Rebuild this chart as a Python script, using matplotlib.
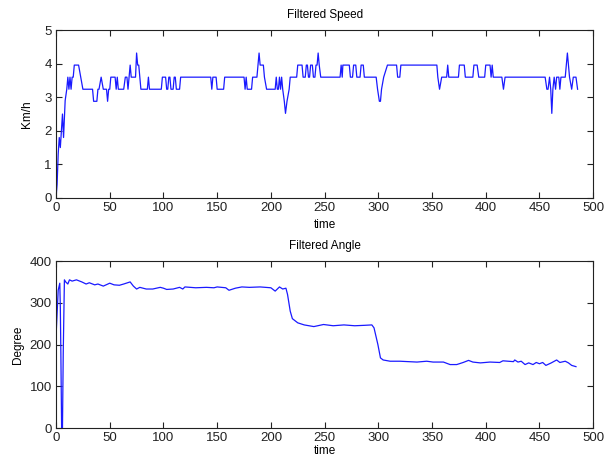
import numpy as np
import matplotlib
matplotlib.use('Agg')
import matplotlib.pyplot as plt

plt.rcParams['font.family'] = ['Liberation Sans', 'DejaVu Sans']

# filtered walking speed, km/h (breakpoints of the recorded trace)
speed_t = [0, 1, 2, 3, 4, 5, 6, 7, 8.5, 10, 11, 12, 13, 14, 15, 16, 17, 21, 23, 25,
           34, 35, 38, 39, 40, 42, 44, 47, 48, 49, 50, 51, 55, 56, 57, 58, 63, 64.5,
           66, 67, 68, 69, 70, 74, 75, 76, 77, 78, 79, 85, 86, 87, 98, 99, 102, 103,
           104, 105, 106, 107, 109, 110, 111, 112, 115, 116, 144, 145, 146, 149, 150,
           156, 157, 175, 176, 177, 178, 182, 183, 187, 188, 189, 190, 193, 194, 196,
           204, 205, 206, 207, 208, 209, 210, 211, 212.5, 213.6, 215, 217, 218, 224,
           225, 229, 230, 232, 233, 234, 235, 236, 237, 238.6, 239.6, 241, 242, 243,
           244, 245, 246.4, 264.4, 265.4, 266.4, 267, 273, 274, 276, 277, 279, 280,
           283, 284, 286, 287, 298, 299.3, 301, 302, 303, 305, 308.5, 317, 318, 320,
           321, 354.5, 355.4, 357, 359, 363.6, 364.6, 365.6, 374.6, 375.5, 380, 381,
           388, 389, 392, 393.5, 399, 400, 404, 405, 406, 407, 408, 415, 416.5, 418,
           455.3, 456.9, 458, 459.4, 460.5, 461.5, 462.5, 463.7, 465, 466, 468, 469,
           470, 471, 474, 475, 476, 477, 478, 480, 481.5, 484, 485.5]
speed_v = [0, 0.4, 1.3, 1.8, 1.5, 2.0, 2.5, 1.8, 2.9, 3.24, 3.6, 3.24, 3.6, 3.24, 3.6,
           3.6, 3.96, 3.96, 3.6, 3.24, 3.24, 2.88, 2.88, 3.24, 3.24, 3.6, 3.24, 3.24,
           2.88, 3.24, 3.24, 3.6, 3.6, 3.24, 3.6, 3.24, 3.24, 3.6, 3.6, 3.24, 3.6,
           3.96, 3.6, 3.6, 4.32, 3.96, 3.96, 3.6, 3.24, 3.24, 3.6, 3.24, 3.24, 3.6,
           3.6, 3.24, 3.24, 3.6, 3.6, 3.24, 3.24, 3.6, 3.6, 3.24, 3.24, 3.6, 3.6,
           3.24, 3.6, 3.6, 3.24, 3.24, 3.6, 3.6, 3.24, 3.6, 3.24, 3.24, 3.6, 3.6,
           3.96, 4.32, 3.96, 3.96, 3.6, 3.24, 3.24, 3.6, 3.24, 3.24, 3.6, 3.24, 3.6,
           3.24, 2.88, 2.52, 2.88, 3.24, 3.6, 3.6, 3.96, 3.96, 3.6, 3.6, 3.96, 3.96,
           3.6, 3.6, 3.96, 3.96, 3.6, 3.6, 3.96, 3.96, 4.32, 3.96, 3.6, 3.6, 3.96,
           3.6, 3.96, 3.96, 3.6, 3.6, 3.96, 3.96, 3.6, 3.6, 3.96, 3.96, 3.6, 3.6,
           3.24, 2.88, 2.88, 3.24, 3.6, 3.96, 3.96, 3.6, 3.6, 3.96, 3.96, 3.6, 3.24,
           3.6, 3.6, 3.96, 3.6, 3.6, 3.96, 3.96, 3.6, 3.6, 3.96, 3.96, 3.6, 3.6,
           3.96, 3.96, 3.6, 3.96, 3.6, 3.6, 3.6, 3.24, 3.6, 3.6, 3.24, 3.24, 3.6,
           3.24, 2.52, 3.24, 3.6, 3.24, 3.6, 3.6, 3.24, 3.6, 3.6, 3.6, 3.96, 4.32,
           3.96, 3.6, 3.24, 3.6, 3.6, 3.24]

# filtered heading angle, degrees
angle_t = [0, 1, 2, 3.5, 4, 4.5, 5.2, 6, 6.7, 7.8, 9, 11, 12.5, 15, 19, 24, 28, 31,
           36, 39, 44, 50, 54, 59, 63, 69, 72, 75, 78, 84, 90, 97, 100, 103, 109,
           115, 118, 120, 130, 140, 147, 150, 158, 161, 167, 173, 180, 190, 200, 204,
           208, 211, 214, 215.5, 218, 220, 225, 231, 240, 249, 258, 268, 278, 287,
           294, 296, 299.6, 302, 304.5, 311, 320, 336, 345, 351, 360.6, 366.8, 373,
           379, 384, 388, 395, 404, 413, 416, 425.8, 427, 430, 433, 436.6, 440, 444,
           447, 450, 453, 456, 461, 466, 469, 474, 477, 480, 484]
angle_v = [219, 274, 330, 347, 290, 179, 0, 0, 178, 355, 350, 345, 355, 352, 355, 350,
           345, 348, 343, 345, 340, 347, 343, 342, 345, 350, 340, 333, 337, 333, 333,
           337, 335, 332, 333, 337, 333, 338, 336, 337, 336, 338, 336, 330, 335, 338,
           337, 338, 336, 328, 338, 333, 335, 320, 280, 262, 252, 247, 243, 248, 245,
           247, 245, 246, 247, 240, 200, 168, 163, 160, 160, 158, 160, 158, 158, 152,
           152, 157, 162, 158, 156, 158, 157, 161, 159, 163, 158, 160, 152, 156, 152,
           157, 154, 157, 150, 156, 163, 157, 160, 156, 150, 147]

fig = plt.figure(figsize=(6.09, 4.58), dpi=100)

def style(ax, yticks):
    ax.set_xlim([0, 500])
    ax.set_xticks(np.arange(0, 501, 50))
    ax.set_ylim([yticks[0], yticks[-1]])
    ax.set_yticks(yticks)
    ax.tick_params(direction='in', length=4, width=0.8, top=True, right=True,
                   labelsize=9.5, pad=3, colors='#222222')
    for s in ax.spines.values():
        s.set_linewidth(0.8)
        s.set_color('#222222')

ax1 = fig.add_axes([0.092, 0.568, 0.882, 0.366])
ax1.plot(speed_t, speed_v, color='#1a1aff', linewidth=0.9)
style(ax1, [0, 1, 2, 3, 4, 5])
ax1.set_ylabel('Km/h', fontsize=8.5, labelpad=8)

ax2 = fig.add_axes([0.092, 0.0655, 0.882, 0.3645])
ax2.plot(angle_t, angle_v, color='#1a1aff', linewidth=0.9)
style(ax2, [0, 100, 200, 300, 400])
ax2.set_ylabel('Degree', fontsize=8.5, labelpad=4)

cx = 0.533
fig.text(cx, 0.967, 'Filtered Speed', ha='center', va='center', fontsize=8.5)
fig.text(cx, 0.509, 'time', ha='center', va='center', fontsize=8.5)
fig.text(cx, 0.463, 'Filtered Angle', ha='center', va='center', fontsize=8.5)
fig.text(cx, 0.002, 'time', ha='center', va='bottom', fontsize=8.5)

plt.savefig('out.png', dpi=100)
